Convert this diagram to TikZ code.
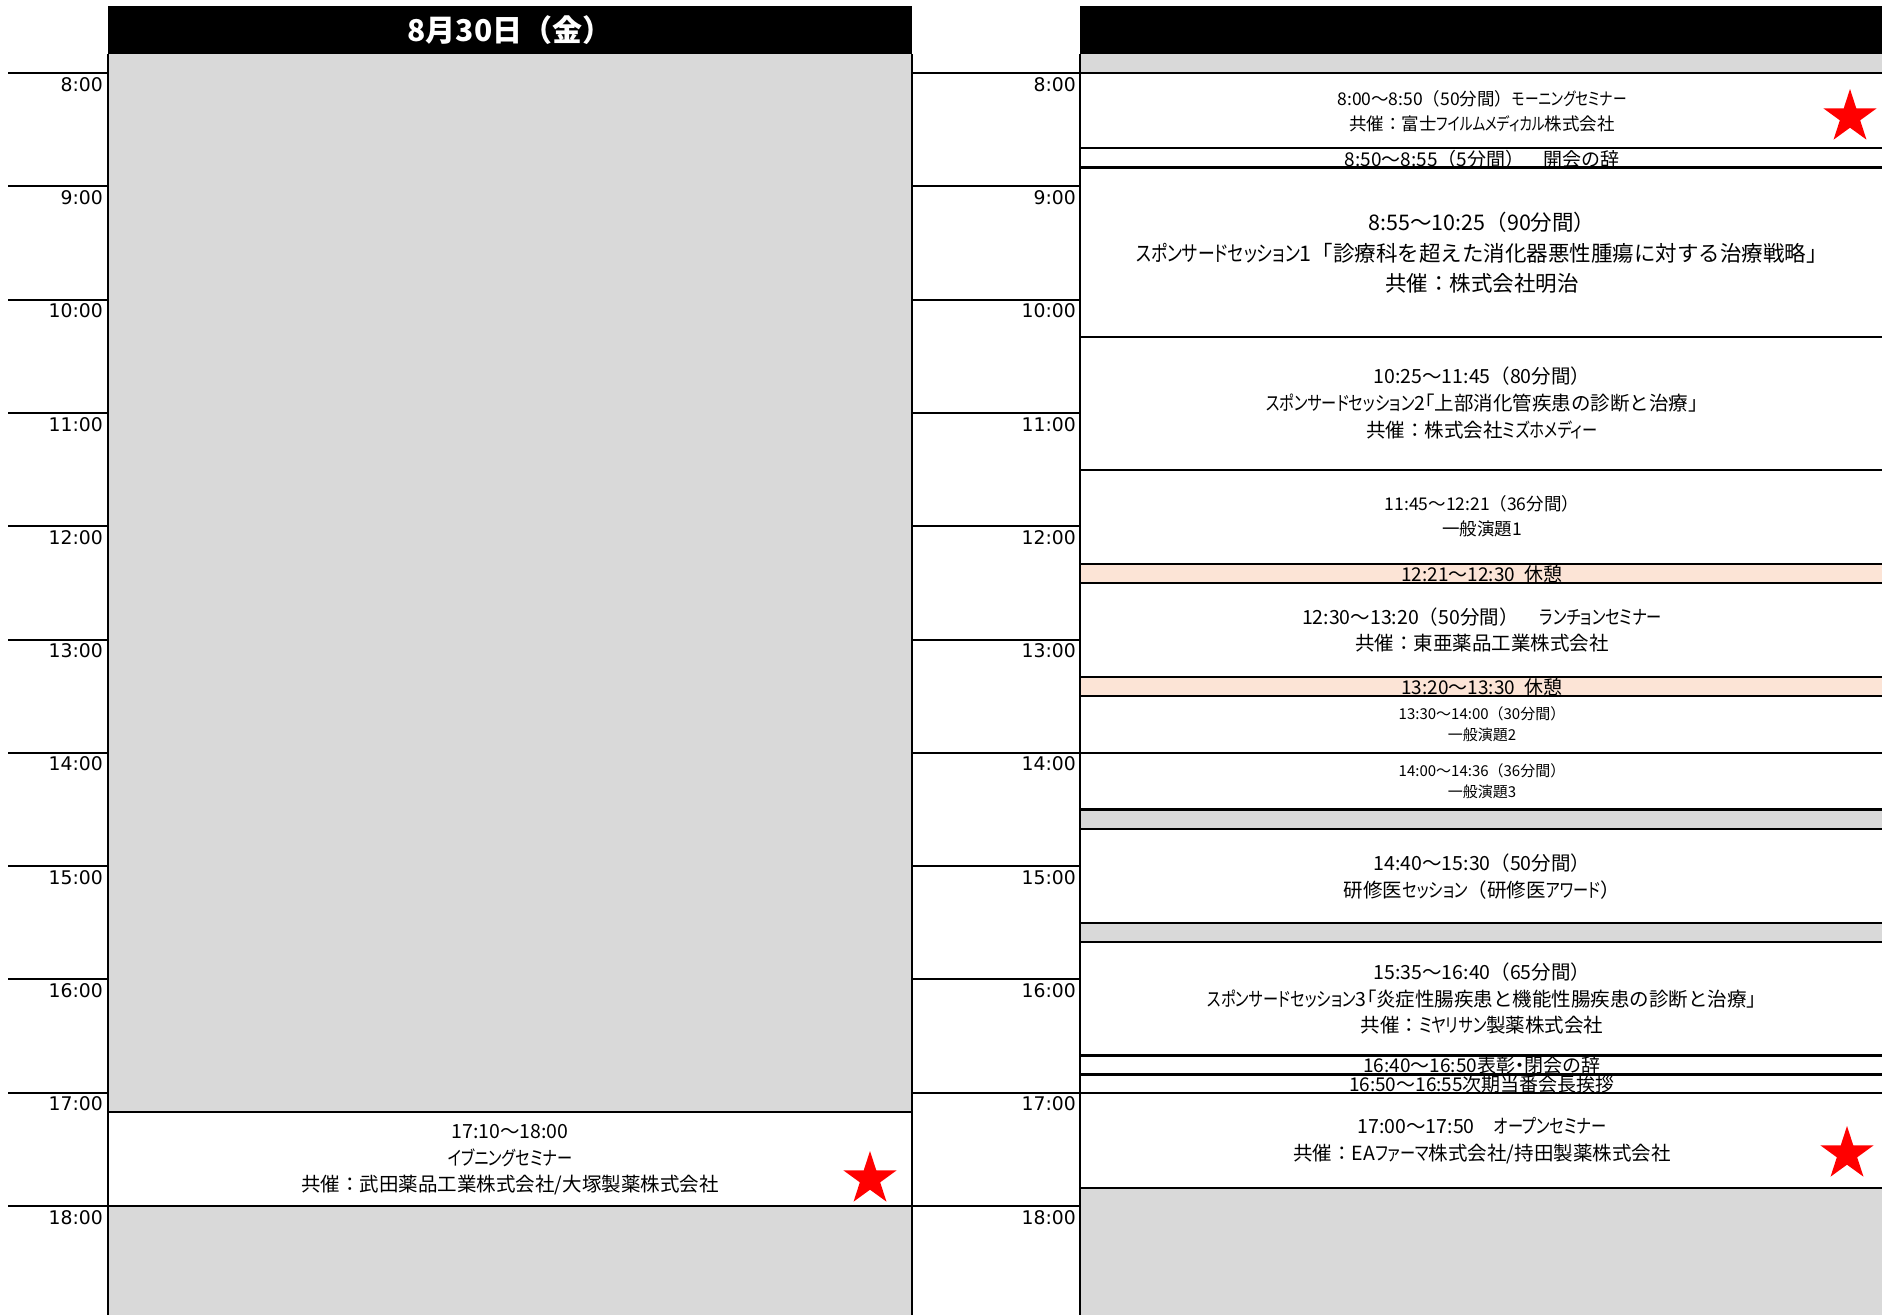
\documentclass[tikz,border=0pt]{standalone}
\usepackage{fontspec}
\setmainfont{DejaVu Sans}
\newfontfamily\jp{Noto Sans CJK JP}
\newfontfamily\jk[RawFeature=+palt,FakeStretch=0.78]{Noto Sans CJK JP}
\newfontfamily\jq[RawFeature=+palt]{Noto Sans CJK JP}
\newfontfamily\tmfont{DejaVu Sans}
\usetikzlibrary{shapes.geometric}
\definecolor{cellgray}{HTML}{D9D9D9}
\definecolor{peach}{HTML}{FCE4D6}
\begin{document}
\begin{tikzpicture}[x=1pt,y=-1pt,
  hourline/.style={line width=2pt},
  boxline/.style={line width=2.8pt},
  timelab/.style={anchor=north east,inner sep=0pt,font=\tmfont\fontsize{18.8}{20}\selectfont},
  jA/.style={align=center,inner sep=0pt,font=\jp\fontsize{21.5}{30.5}\selectfont},
  jB/.style={align=center,inner sep=0pt,font=\jp\fontsize{19.5}{26.6}\selectfont},
  jC/.style={align=center,inner sep=0pt,font=\jp\fontsize{17.5}{24.5}\selectfont},
  jD/.style={align=center,inner sep=0pt,font=\jp\fontsize{15}{21}\selectfont},
  jE/.style={anchor=base,inner sep=0pt,font=\jp\fontsize{19}{22}\selectfont},
  redstar/.style={star,star points=5,star point ratio=2.618,fill=red,draw=none,minimum size=56pt,inner sep=0pt}]
\useasboundingbox (0,0) rectangle (1882,1315);
\clip (0,0) rectangle (1882,1315);
% ---------- left column ----------
\fill[black] (108,6) rectangle (912,54);
\node[font=\jp\bfseries\fontsize{30}{32}\selectfont,text=white,inner sep=0pt] (hdrL) at (510,30) {8月30日（金）};
\fill[cellgray] (108,54) rectangle (912,1315);
\fill[white] (108,1112) rectangle (912,1206);
\node[jB] (evening) at (510,1160) {17:10～18:00\\{\jk イブニングセミナー}\\共催：武田薬品工業株式会社/大塚製薬株式会社};
\node[redstar] (starL) at (870,1179) {};
\draw[boxline] (108,1112) rectangle (912,1206);
\draw[line width=2pt] (108,54) -- (108,1315) (912,54) -- (912,1315);
% ---------- right column ----------
\fill[black] (1080,6) rectangle (1890,54);
\fill[cellgray] (1080,54) rectangle (1890,73);
\fill[white] (1080,73) rectangle (1890,564);
\fill[peach] (1080,564) rectangle (1890,583);
\fill[white] (1080,583) rectangle (1890,677);
\fill[peach] (1080,677) rectangle (1890,696);
\fill[white] (1080,696) rectangle (1890,809.5);
\fill[cellgray] (1080,809.5) rectangle (1890,829);
\fill[white] (1080,829) rectangle (1890,923);
\fill[cellgray] (1080,923) rectangle (1890,942);
\fill[white] (1080,942) rectangle (1890,1188);
\fill[cellgray] (1080,1188) rectangle (1890,1315);
% texts
\node[jC] (morning) at (1482,111) {8:00～8:50（50分間）{\jk モーニングセミナー}\\共催：富士{\jk フイルムメディカル}株式会社};
\node[redstar] (starM) at (1850,117) {};
\begin{scope}
\clip (1080,148) rectangle (1890,167.5);
\node[jE] (opening) at (1482,166.5) {8:50～8:55（5分間）　開会の辞};
\end{scope}
\node[jA] (spon1) at (1482,253) {8:55～10:25（90分間）\\{\jk スポンサードセッション}1「診療科を超えた消化器悪性腫瘍に対する治療戦略」\\共催：株式会社明治};
\node[jB] (spon2) at (1482,403) {10:25～11:45（80分間）\\{\jk スポンサードセッション}2{\jq 「}上部消化管疾患の診断と治療{\jq 」}\\共催：株式会社{\jk ミズホメディー}};
\node[jC] (gen1) at (1482,516) {11:45～12:21（36分間）\\一般演題1};
\begin{scope}
\clip (1080,564) rectangle (1890,583);
\node[jE] (break1) at (1482,581) {12:21～12:30\hspace{0.5em}休憩};
\end{scope}
\node[jB] (lunch) at (1482,630) {12:30～13:20（50分間）\hspace{1.1em}{\jk ランチョンセミナー}\\共催：東亜薬品工業株式会社};
\begin{scope}
\clip (1080,677) rectangle (1890,696);
\node[jE] (break2) at (1482,694.5) {13:20～13:30\hspace{0.5em}休憩};
\end{scope}
\node[jD] (gen2) at (1482,724.5) {13:30～14:00（30分間）\\一般演題2};
\node[jD] (gen3) at (1482,781) {14:00～14:36（36分間）\\一般演題3};
\node[jB] (trainee) at (1482,876.5) {14:40～15:30（50分間）\\研修医{\jk セッション}（研修医{\jk アワード}）};
\node[jB] (spon3) at (1482,998.7) {15:35～16:40（65分間）\\{\jk スポンサードセッション}3{\jq 「}炎症性腸疾患と機能性腸疾患の診断と治療{\jq 」}\\共催：{\jk ミヤリサン}製薬株式会社};
\begin{scope}
\clip (1080,1055.5) rectangle (1890,1074.3);
\node[jE] (closing) at (1482,1072.5) {16:40～16:50表彰{\jq ・}閉会の辞};
\end{scope}
\begin{scope}
\clip (1080,1074.3) rectangle (1890,1093);
\node[jE] (nextpres) at (1482,1091.5) {16:50～16:55次期当番会長挨拶};
\end{scope}
\node[jB] (open) at (1482,1140.7) {17:00～17:50\hspace{1em}{\jk オープンセミナー}\\共催：EA{\jk ファーマ}株式会社/持田製薬株式会社};
\node[redstar] (starO) at (1847,1154) {};
% borders
\foreach \t/\b in {73/148,148/167.5,167.5/337,337/470,470/564,564/583,583/677,677/696,696/753,753/809.5,829/923,942/1055.5,1055.5/1074.3,1074.3/1093,1093/1188}
  \draw[boxline] (1080,\t) rectangle (1895,\b);
\draw[line width=2.5pt] (1080,54) -- (1080,1315);
% ---------- hour lines and labels ----------
\foreach \h [count=\i from 0] in {8,...,18}{
  \pgfmathsetmacro{\yy}{73+113.3*\i}
  \draw[hourline] (8,\yy) -- (108,\yy);
  \draw[hourline] (912,\yy) -- (1080,\yy);
  \node[timelab] (tl\h) at (103,\yy+4) {\h:00};
  \node[timelab] (tr\h) at (1076,\yy+4) {\h:00};
}
\end{tikzpicture}
\end{document}
